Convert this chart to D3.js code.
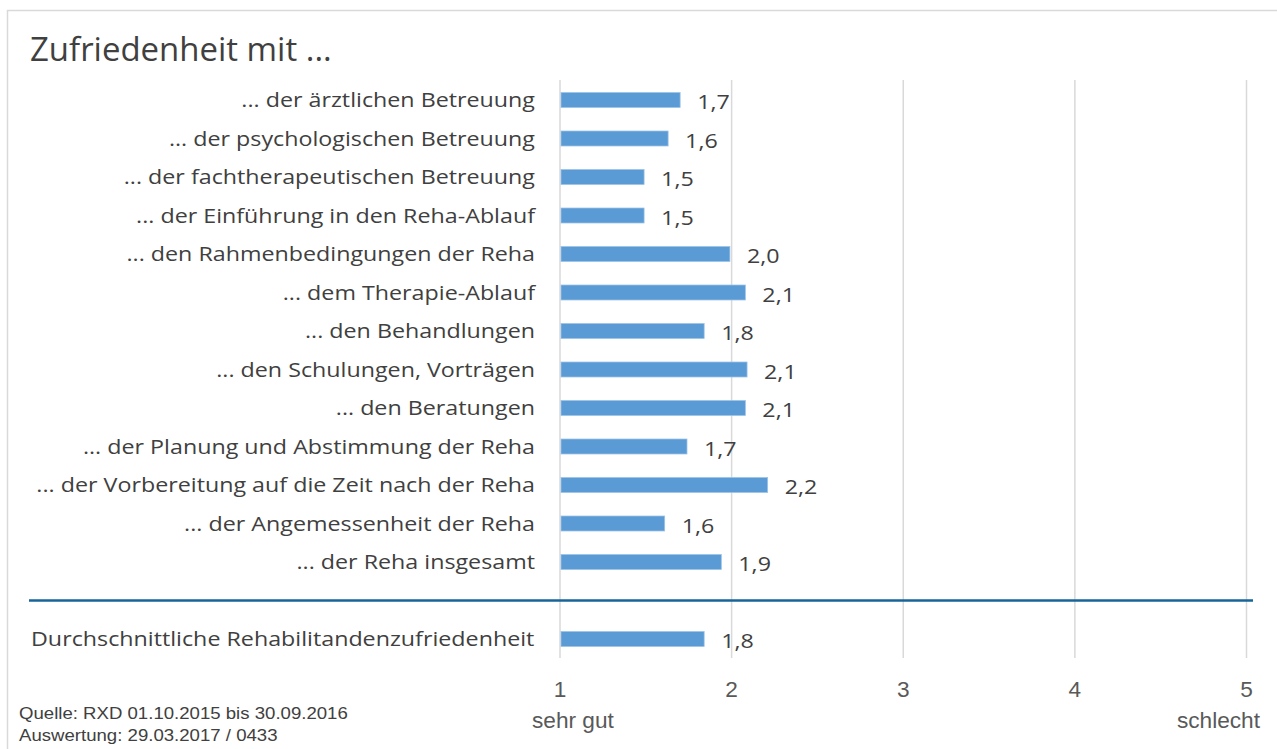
<!DOCTYPE html>
<html>
<head>
<meta charset="utf-8">
<script src="https://cdn.jsdelivr.net/npm/d3@7"></script>
<style>
	body { margin: 0; background: #fff; }
	svg { display: block; }
</style>
</head>
<body>
<script>
// Werte
const title = 'Zufriedenheit mit ...';
const categories = [
	'... der ärztlichen Betreuung',
	'... der psychologischen Betreuung',
	'... der fachtherapeutischen Betreuung',
	'... der Einführung in den Reha-Ablauf',
	'... den Rahmenbedingungen der Reha',
	'... dem Therapie-Ablauf',
	'... den Behandlungen',
	'... den Schulungen, Vorträgen',
	'... den Beratungen',
	'... der Planung und Abstimmung der Reha',
	'... der Vorbereitung auf die Zeit nach der Reha',
	'... der Angemessenheit der Reha',
	'... der Reha insgesamt'
];
const values = [1.70, 1.63, 1.49, 1.49, 1.99, 2.08, 1.84, 2.09, 2.08, 1.74, 2.21, 1.61, 1.94];
const totalLabel = 'Durchschnittliche Rehabilitandenzufriedenheit';
const totalValue = 1.84;
const tickValues = [1, 2, 3, 4, 5];
const axisEnds = ['sehr gut', 'schlecht'];
const footer = ['Quelle: RXD 01.10.2015 bis 30.09.2016', 'Auswertung: 29.03.2017 / 0433'];

document.addEventListener('DOMContentLoaded', () => {
	let width = 1277;
	let height = 749;
	let svg = d3.select('body')
		.append('svg')
		.attr('width', width)
		.attr('height', height);

	let de = d3.formatLocale({ decimal: ',', thousands: '.', grouping: [3], currency: ['', ' €'] });
	let fmt = de.format('.1f');

	// Die Vorlage ist waagerecht etwas gestreckt, daher die Schrift mit sx skalieren
	let sans = '"Open Sans", sans-serif';
	let arial = '"Liberation Sans", Arial, sans-serif';
	let stretch = 1.163;

	let place = (sel, fx, fy, sx) => sel
		.attr('transform', (d, i) => `translate(${fx(d, i)},${fy(d, i)}) scale(${sx},1)`);

	// 13 Zeilen, eine Lücke für die Trennlinie, dann der Durchschnitt
	let rows = categories.map((c, i) => ({ label: c, value: values[i], slot: i }));
	rows.push({ label: totalLabel, value: totalValue, slot: categories.length + 1 });

	let x = d3.scaleLinear().domain([1, 5]).range([560, 1246.5]);
	let y = d3.scalePoint().domain(d3.range(categories.length + 2)).range([100, 639]);
	let barH = 15;
	let gridTop = 80, gridBottom = 658;

	svg.append('rect')
		.attr('x', 7.5).attr('y', 10.5)
		.attr('width', width).attr('height', height)
		.style('fill', 'none')
		.style('stroke', '#d9d9d9')
		.style('stroke-width', 1.5);

	svg.append('text')
		.call(place, () => 30, () => 60.5, 1.03)
		.style('font-family', sans)
		.style('font-size', '32px')
		.style('fill', '#404040')
		.text(title);

	svg.append('g')
		.selectAll('line')
		.data(tickValues)
		.enter().append('line')
		.attr('x1', d => x(d)).attr('x2', d => x(d))
		.attr('y1', gridTop).attr('y2', gridBottom)
		.style('stroke', '#d9d9d9')
		.style('stroke-width', 1.5);

	svg.append('line')
		.attr('x1', 29).attr('x2', 1253)
		.attr('y1', y(categories.length)).attr('y2', y(categories.length))
		.style('stroke', '#17649a')
		.style('stroke-width', 2.5);

	svg.append('g')
		.selectAll('rect')
		.data(rows)
		.enter().append('rect')
		.attr('x', x(1) + 1)
		.attr('y', d => y(d.slot) - barH / 2)
		.attr('width', d => x(d.value) - x(1) - 1)
		.attr('height', barH)
		.style('fill', '#5b9bd5')
		.style('stroke', '#9cc3e6')
		.style('stroke-width', 0.75);

	svg.append('g')
		.selectAll('text')
		.data(rows)
		.enter().append('text')
		.call(place, d => d.slot > categories.length ? 31 : 535, d => y(d.slot) + 7, stretch)
		.attr('text-anchor', d => d.slot > categories.length ? 'start' : 'end')
		.style('font-family', sans)
		.style('font-size', '20px')
		.style('fill', '#404040')
		.text(d => d.label);

	svg.append('g')
		.selectAll('text')
		.data(rows)
		.enter().append('text')
		.call(place, d => x(d.value) + 17, d => y(d.slot) + 9, stretch)
		.style('font-family', sans)
		.style('font-size', '20px')
		.style('fill', '#404040')
		.text(d => fmt(d.value));

	svg.append('g')
		.selectAll('text')
		.data(tickValues)
		.enter().append('text')
		.call(place, d => x(d), () => 697, 1.03)
		.attr('text-anchor', 'middle')
		.style('font-family', arial)
		.style('font-size', '22px')
		.style('fill', '#595959')
		.text(d => d);

	svg.append('text')
		.call(place, () => 532, () => 727.5, 1.03)
		.style('font-family', arial)
		.style('font-size', '22px')
		.style('fill', '#595959')
		.text(axisEnds[0]);

	svg.append('text')
		.call(place, () => 1260, () => 727.5, 1.03)
		.attr('text-anchor', 'end')
		.style('font-family', arial)
		.style('font-size', '22px')
		.style('fill', '#595959')
		.text(axisEnds[1]);

	svg.append('g')
		.selectAll('text')
		.data(footer)
		.enter().append('text')
		.call(place, () => 19, (d, i) => 719 + i * 22, stretch)
		.style('font-family', arial)
		.style('font-size', '16px')
		.style('fill', '#404040')
		.text(d => d);
});
</script>
</body>
</html>
